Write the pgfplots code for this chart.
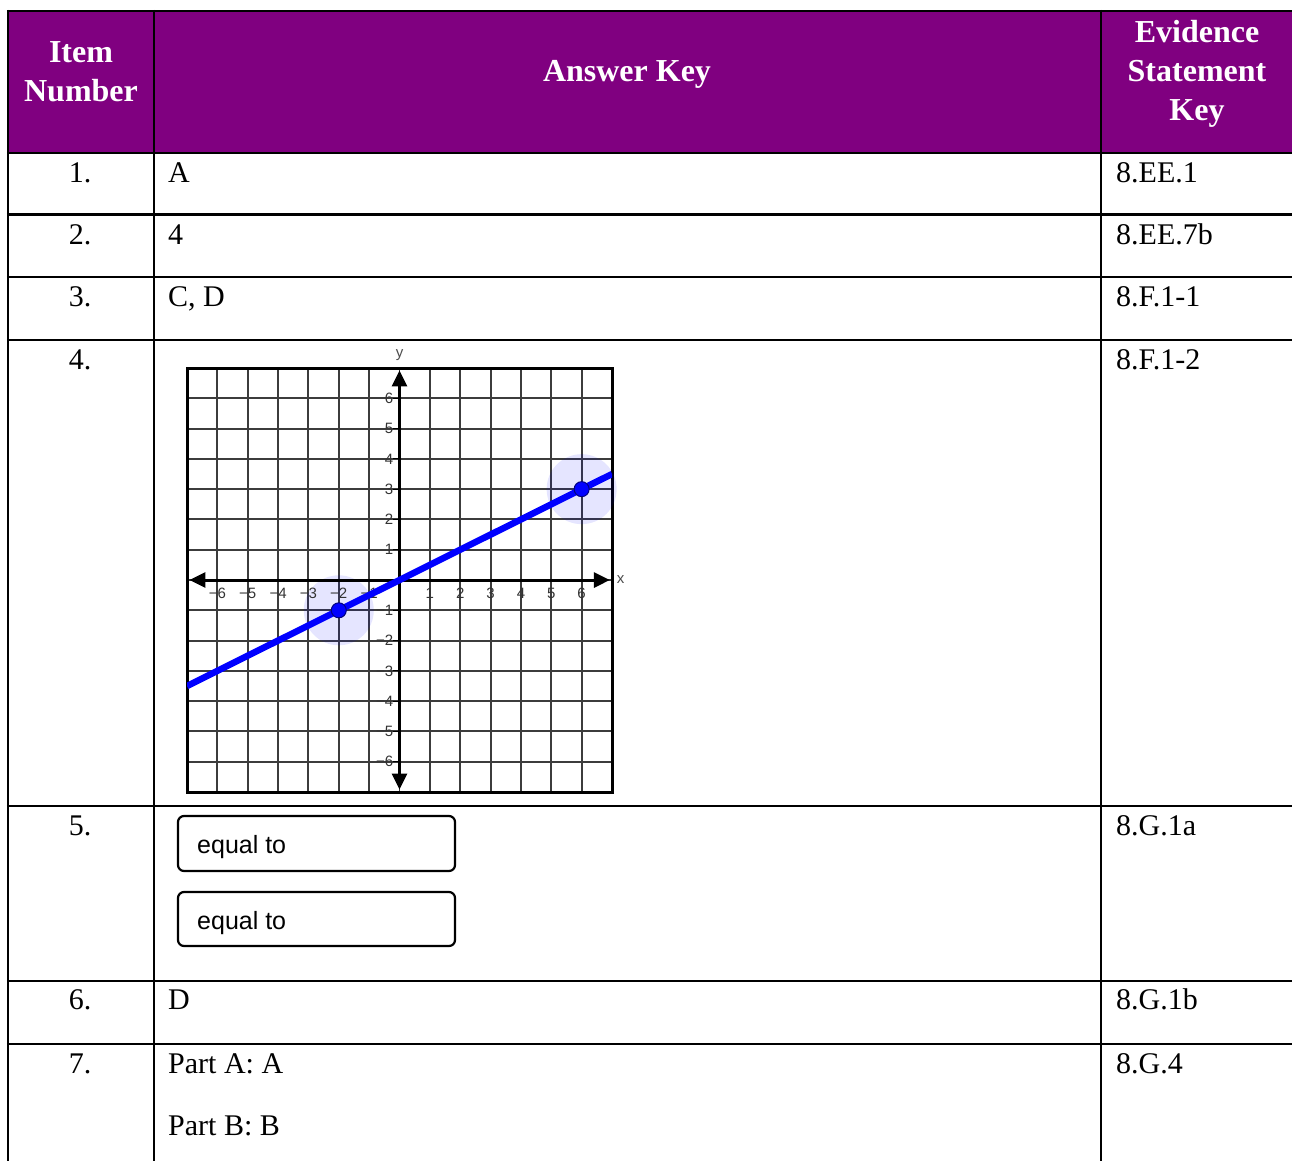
\documentclass[border=0pt]{standalone}
\usepackage{pgfplots}
\pgfplotsset{compat=1.18}
\usepackage{fontspec}
\setmainfont{Liberation Serif}
\newfontfamily\arial{Liberation Sans}
\usetikzlibrary{arrows.meta}

\definecolor{hdrpurple}{RGB}{128,0,128}
\definecolor{gridgray}{RGB}{60,60,60}

\newcommand{\bodyfont}{\fontsize{30}{36}\selectfont}
\newcommand{\hdrfont}{\fontsize{32}{40}\selectfont\bfseries}
\newcommand{\tickfont}{\arial\fontsize{15}{17}\selectfont}

\begin{document}
\begin{tikzpicture}
\useasboundingbox (0pt,0pt) rectangle (1292pt,-1160pt);

\begin{scope}[x=1pt,y=-1pt]
  % header band
  \fill[hdrpurple] (8,11) rectangle (1300,153);
  \node[white,font=\hdrfont,anchor=base] at (81,62) {Item};
  \node[white,font=\hdrfont,anchor=base] at (81,101) {Number};
  \node[white,font=\hdrfont,anchor=base] at (627,81) {Answer Key};
  \node[white,font=\hdrfont,anchor=base] at (1197,42) {Evidence};
  \node[white,font=\hdrfont,anchor=base] at (1197,81) {Statement};
  \node[white,font=\hdrfont,anchor=base] at (1197,120) {Key};

  % rules
  \begin{scope}[line width=2.5pt]
    \foreach \yy in {11,153,214.5,277,340,806,981,1044}
      \draw (6.75,\yy) -- (1300,\yy);
    \foreach \xx in {8,154,1101}
      \draw (\xx,9.75) -- (\xx,1170);
  \end{scope}

  % body text
  \begin{scope}[font=\bodyfont]
    \node[anchor=base] at (80,182) {1.};
    \node[anchor=base] at (80,244) {2.};
    \node[anchor=base] at (80,306) {3.};
    \node[anchor=base] at (80,369) {4.};
    \node[anchor=base] at (80,835) {5.};
    \node[anchor=base] at (80,1009) {6.};
    \node[anchor=base] at (80,1073) {7.};

    \node[anchor=base west,inner sep=0pt] at (168,182) {A};
    \node[anchor=base west,inner sep=0pt] at (168,244) {4};
    \node[anchor=base west,inner sep=0pt] at (168,306) {C, D};
    \node[anchor=base west,inner sep=0pt] at (168,1009) {D};
    \node[anchor=base west,inner sep=0pt] at (168,1073) {Part A: A};
    \node[anchor=base west,inner sep=0pt] at (168,1135) {Part B: B};

    \node[anchor=base west,inner sep=0pt] at (1116,182) {8.EE.1};
    \node[anchor=base west,inner sep=0pt] at (1116,244) {8.EE.7b};
    \node[anchor=base west,inner sep=0pt] at (1116,306) {8.F.1-1};
    \node[anchor=base west,inner sep=0pt] at (1116,369) {8.F.1-2};
    \node[anchor=base west,inner sep=0pt] at (1116,835) {8.G.1a};
    \node[anchor=base west,inner sep=0pt] at (1116,1009) {8.G.1b};
    \node[anchor=base west,inner sep=0pt] at (1116,1073) {8.G.4};
  \end{scope}

  % answer boxes for item 5
  \draw[line width=2.2pt,rounded corners=6pt] (178,816) rectangle (455,871);
  \draw[line width=2.2pt,rounded corners=6pt] (178,892) rectangle (455,946);
  \node[anchor=base west,inner sep=0pt,font=\arial\fontsize{25}{30}\selectfont] at (197,853) {equal to};
  \node[anchor=base west,inner sep=0pt,font=\arial\fontsize{25}{30}\selectfont] at (197,929) {equal to};
\end{scope}

% coordinate grid of item 4
\begin{axis}[
  at={(187pt,-792pt)}, anchor=south west,
  scale only axis, width=425pt, height=424pt,
  xmin=-7, xmax=7, ymin=-7, ymax=7,
  xtick={-7,...,7}, ytick={-7,...,7},
  xticklabels={}, yticklabels={},
  major tick length=0pt,
  grid=major,
  grid style={gridgray, line width=1.9pt},
  axis line style={black, line width=3pt},
  clip mode=individual,
]
% highlight halos
\addplot[only marks, mark=*, mark size=35pt,
  mark options={draw opacity=0, fill=blue, fill opacity=0.1}]
  coordinates {(-2,-1) (6,3)};

% x and y axes with arrows
\draw[line width=3pt, {Triangle[length=16pt,width=15pt]}-{Triangle[length=16pt,width=15pt]}]
  (axis cs:-6.92,0) -- (axis cs:6.93,0);
\draw[line width=3pt, {Triangle[length=16pt,width=15pt]}-{Triangle[length=16pt,width=15pt]}]
  (axis cs:0,6.92) -- (axis cs:0,-6.92);

% tick labels
\pgfplotsinvokeforeach{1,...,6}{
  \node[font=\tickfont, text=black!80, inner sep=0pt] at (axis cs:-#1,-0.43) {−#1};
  \node[font=\tickfont, text=black!80, inner sep=0pt] at (axis cs:#1,-0.43) {#1};
  \node[font=\tickfont, text=black!80, inner sep=0pt, anchor=east] at (axis cs:-0.2,#1) {#1};
  \node[font=\tickfont, text=black!80, inner sep=0pt, anchor=east] at (axis cs:-0.2,-#1) {−#1};
  \draw[line width=1pt] (axis cs:-0.2,#1) -- (axis cs:0,#1);
  \draw[line width=1pt] (axis cs:-0.2,-#1) -- (axis cs:0,-#1);
}
\node[font=\tickfont, text=black!70] at (axis cs:7.28,0) {x};
\node[font=\tickfont, text=black!70] at (axis cs:0,7.42) {y};

% the graphed line and its two points
\addplot[blue, line width=6.5pt, no marks] coordinates {(-7,-3.5) (7,3.5)};
\addplot[only marks, mark=*, mark size=7.5pt,
  mark options={fill=blue, draw=blue!50!black, line width=1pt}]
  coordinates {(-2,-1) (6,3)};
\end{axis}
\end{tikzpicture}
\end{document}
